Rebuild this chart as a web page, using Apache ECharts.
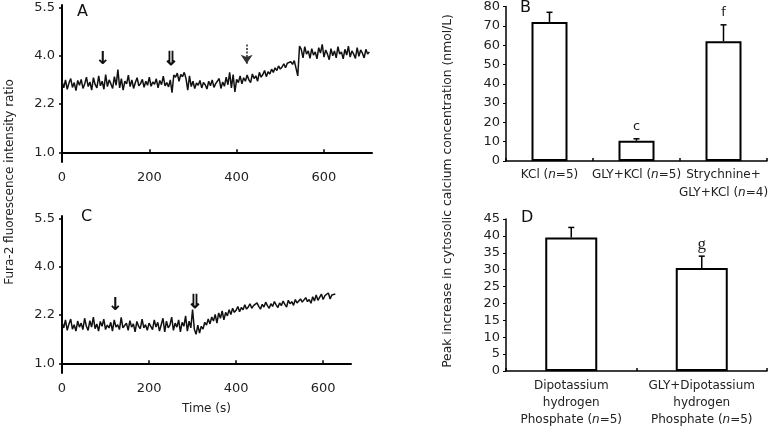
<!DOCTYPE html>
<html><head><meta charset="utf-8">
<script src="https://cdn.jsdelivr.net/npm/echarts@6/dist/echarts.min.js"></script>
<style>html,body{margin:0;padding:0;background:#fff}#c{width:773px;height:428px}</style>
</head><body><div id="c"></div>
<script>
// ---------- data ----------
const ratioTickLabels = ['1.0', '2.2', '4.0', '5.5'];
const ratioTickValues = [1.0, 2.2, 4.0, 5.5];
const timeTicks = [0, 200, 400, 600];
const timeStepA = 4;   // s between samples, panel A
const timeStepC = 4;   // s between samples, panel C

// Panel A trace (Fura-2 ratio), sampled every 4 s from 0 s
const traceA = [
  3.05,2.80,3.10,2.75,2.98,3.15,2.82,3.00,2.70,3.08,2.90,3.12,2.78,2.95,3.20,2.85,3.02,2.72,3.18,2.92,
  2.80,3.25,2.88,3.05,2.75,3.30,2.85,3.10,2.95,2.78,3.22,2.90,3.48,2.80,3.15,2.72,3.05,2.95,3.28,2.85,
  3.10,2.78,3.00,3.18,2.88,2.96,3.12,2.82,3.05,2.90,3.20,2.86,3.02,2.94,3.14,2.80,3.08,2.92,3.24,2.88,
  3.00,2.84,3.10,
  2.62,
  3.28,3.20,3.35,3.05,3.30,3.22,3.38,3.15,
  2.72,3.25,
  2.85,3.05,2.78,2.98,2.90,3.08,2.80,3.00,2.92,2.76,3.05,2.88,3.10,2.82,2.96,2.90,3.15,2.78,3.02,2.86,
  3.20,2.92,3.38,2.80,3.30,
  2.65,3.12,
  3.00,3.25,2.95,3.18,3.05,3.28,3.10,3.00,3.32,3.15,3.25,3.05,3.38,3.20,3.30,3.45,3.22,3.40,3.32,3.50,
  3.38,3.55,3.45,3.62,3.50,3.58,3.70,3.55,3.72,3.65,3.78,3.68,3.82,3.75,
  3.25,4.30,
  4.20,3.92,4.28,4.05,4.15,3.90,4.22,4.02,4.12,3.88,4.25,4.08,4.35,3.95,4.18,4.05,3.85,4.22,4.00,4.15,
  3.92,4.28,4.05,4.12,3.88,4.20,4.02,4.30,3.95,4.15,4.05,3.90,4.25,3.98,4.18,4.08,3.92,4.20,4.05,4.12
];
// Panel C trace (Fura-2 ratio), sampled every 4 s from 0 s
const traceC = [
  2.02,1.88,2.08,1.82,1.98,2.10,1.85,1.96,1.80,2.05,1.90,2.00,1.84,2.12,1.92,1.82,2.06,1.90,2.15,1.86,
  1.98,1.80,2.04,1.92,2.10,1.84,1.95,1.88,2.02,1.80,2.08,1.90,1.96,1.84,2.14,1.88,1.94,2.00,1.82,2.06,
  1.90,1.98,1.78,2.04,1.92,1.86,2.10,1.88,1.96,1.82,2.00,1.92,1.84,2.08,1.90,2.02,1.80,1.96,2.12,1.78,
  2.05,1.88,1.95,2.15,1.82,2.00,1.90,2.08,1.78,2.02,1.92,2.18,1.80,2.05,1.88,
  2.40,
  1.85,1.72,1.95,1.75,
  1.92,1.85,2.02,1.95,2.10,1.98,2.15,2.05,2.22,2.00,2.28,2.12,2.35,2.08,2.30,2.18,2.40,2.22,2.45,2.30,
  2.38,2.52,2.32,2.48,2.40,2.58,2.42,2.50,2.62,2.45,2.55,
  2.48,2.65,2.52,2.42,2.60,2.50,2.68,2.55,2.45,2.62,2.52,2.70,2.58,2.48,2.65,2.55,2.72,2.60,2.50,2.75,
  2.62,2.70,2.56,2.78,2.65,2.58,2.80,2.68,2.62,2.85,2.70,2.78,2.64,2.88,2.72,2.95,2.75,2.82,2.98,2.78,
  2.92,2.85,3.02,2.80,2.95,2.88,2.98
];
// Arrow annotations [time s, ratio, glyph]
const arrowsA = [[93, 3.85, '↓'], [249, 3.85, '⇓']];
const dashedArrowA = [423, 4.35, 3.70];   // time, start ratio, end ratio
const arrowsC = [[122, 2.58, '↓'], [306, 2.66, '⇓']];

// Panel B
const catB = ['KCl ({i|n}=5)', 'GLY+KCl ({i|n}=5)', 'Strychnine+\nGLY+KCl ({i|n}=4)'];
const valB = [72, 10.5, 62];
const errB = [5, 1, 8.5];
const sigB = ['', 'c', 'f'];
const yTicksB = [0, 80, 10];
// Panel D
const catD = ['Dipotassium\nhydrogen\nPhosphate ({i|n}=5)', 'GLY+Dipotassium\nhydrogen\nPhosphate ({i|n}=5)'];
const valD = [39.5, 30.5];
const errD = [3, 3.5];
const sigD = ['', 'g'];
const yTicksD = [0, 45, 5];

// ---------- helpers ----------
// the ratio axis labels are evenly spaced; map a ratio to its position between labels
function toPos(v) {
  const t = ratioTickValues;
  let i = 0;
  if (v >= t[t.length - 1]) i = t.length - 2;
  else { while (i < t.length - 2 && v > t[i + 1]) i++; }
  return i + (v - t[i]) / (t[i + 1] - t[i]);
}
const FONT = 'DejaVu Sans';
const dataA = traceA.map((v, i) => [i * timeStepA, toPos(v)]);
const dataC = traceC.map((v, i) => [i * timeStepC, toPos(v)]);

function ratioYAxis(gi) {
  return {
    gridIndex: gi, type: 'value', min: -0.2, max: 3.05,
    axisLine: {show: true, lineStyle: {color: '#000', width: 2}},
    axisTick: {show: true, inside: false, length: 3, customValues: [0, 1, 2, 3], lineStyle: {color: '#000', width: 1.5}},
    axisLabel: {customValues: [0, 1, 2, 3], formatter: v => ratioTickLabels[Math.round(v)],
      color: '#222', fontFamily: FONT, fontSize: 13, margin: 7},
    splitLine: {show: false}
  };
}
function timeXAxis(gi, max) {
  return {
    gridIndex: gi, type: 'value', min: 0, max: max,
    axisLine: {show: true, lineStyle: {color: '#000', width: 2}},
    axisTick: {show: true, inside: true, length: 3, customValues: timeTicks, lineStyle: {color: '#000', width: 1.5}},
    axisLabel: {customValues: timeTicks, color: '#222', fontFamily: FONT, fontSize: 13, margin: 9},
    splitLine: {show: false}
  };
}
function arrowMarks(list) {
  return {
    silent: true, symbol: 'rect', symbolSize: 1, itemStyle: {color: 'rgba(0,0,0,0)'},
    label: {show: true, position: 'inside', color: '#111', fontFamily: FONT, fontSize: 18, fontWeight: 'bold',
      formatter: p => p.name === '⇓' ? '{d|⇓}' : p.name,
      rich: {d: {fontFamily: 'Noto Sans', fontSize: 19, fontWeight: 'bold', color: '#111'}}},
    data: list.map(a => ({name: a[2], coord: [a[0], toPos(a[1])]}))
  };
}
function catXAxis(gi, cats, margin, lh) {
  return {
    gridIndex: gi, type: 'category', data: cats,
    axisLine: {show: true, lineStyle: {color: '#000', width: 1.5}},
    axisTick: {show: true, inside: true, length: 3, lineStyle: {color: '#000', width: 1.5}},
    axisLabel: {interval: 0, color: '#222', fontFamily: FONT, fontSize: 12, margin: margin, lineHeight: lh,
      rich: {i: {fontStyle: 'italic', fontFamily: FONT, fontSize: 12, color: '#222', lineHeight: lh}}}
  };
}
function numYAxis(gi, t) {
  return {
    gridIndex: gi, type: 'value', min: t[0], max: t[1], interval: t[2],
    axisLine: {show: true, lineStyle: {color: '#000', width: 1.5}},
    axisTick: {show: true, length: 3, lineStyle: {color: '#000', width: 1}},
    axisLabel: {color: '#222', fontFamily: FONT, fontSize: 13, margin: 6},
    splitLine: {show: false}
  };
}
function errSeries(xi, yi, vals, errs, sig) {
  return {
    type: 'custom', xAxisIndex: xi, yAxisIndex: yi, silent: true, z: 5,
    data: vals.map((v, i) => [i, v, v + errs[i]]),
    renderItem: (params, api) => {
      const b = api.coord([api.value(0), api.value(1)]);
      const t = api.coord([api.value(0), api.value(2)]);
      const s = {stroke: '#000', lineWidth: 1.5};
      const ch = [
        {type: 'line', shape: {x1: b[0], y1: b[1], x2: t[0], y2: t[1]}, style: s},
        {type: 'line', shape: {x1: t[0] - 3, y1: t[1], x2: t[0] + 3, y2: t[1]}, style: s}
      ];
      const letter = sig[params.dataIndex];
      if (letter) {
        ch.push({type: 'text', x: t[0], y: t[1] - 12,
          style: {text: letter, fill: '#222', font: (letter === 'g' ? '17px "Liberation Serif"' : '13px "DejaVu Sans"'),
            align: 'center', verticalAlign: 'middle'}});
      }
      return {type: 'group', children: ch};
    }
  };
}

const option = {
  animation: false,
  backgroundColor: '#fff',
  grid: [
    {left: 62, top: 5, width: 310, height: 157},
    {left: 62, top: 216, width: 289, height: 157},
    {left: 506, top: 6, width: 261, height: 155},
    {left: 506, top: 219, width: 261, height: 154}
  ],
  xAxis: [
    timeXAxis(0, 710),
    Object.assign(timeXAxis(1, 664), {name: 'Time (s)', nameLocation: 'middle', nameGap: 30,
      nameTextStyle: {color: '#222', fontFamily: FONT, fontSize: 12}}),
    catXAxis(2, catB, 5, 18),
    catXAxis(3, catD, 6, 17)
  ],
  yAxis: [ratioYAxis(0), ratioYAxis(1), numYAxis(2, yTicksB), numYAxis(3, yTicksD)],
  graphic: [
    {type: 'text', left: 77, top: 4, style: {text: 'A', font: '16px "DejaVu Sans"', fill: '#111'}},
    {type: 'text', left: 81, top: 209, style: {text: 'C', font: '16px "DejaVu Sans"', fill: '#111'}},
    {type: 'text', left: 520, top: 0, style: {text: 'B', font: '16px "DejaVu Sans"', fill: '#111'}},
    {type: 'text', left: 521, top: 210, style: {text: 'D', font: '16px "DejaVu Sans"', fill: '#111'}},
    {type: 'text', x: 10, y: 182, rotation: Math.PI / 2,
      style: {text: 'Fura-2 fluorescence intensity ratio', font: '12px "DejaVu Sans"', fill: '#222',
        align: 'center', verticalAlign: 'middle'}},
    {type: 'text', x: 448, y: 191, rotation: Math.PI / 2,
      style: {text: 'Peak increase in cytosolic calcium concentration (nmol/L)', font: '12.3px "DejaVu Sans"', fill: '#222',
        align: 'center', verticalAlign: 'middle'}}
  ],
  series: [
    {type: 'line', xAxisIndex: 0, yAxisIndex: 0, data: dataA, showSymbol: false, symbol: 'none',
      lineStyle: {color: '#111', width: 1.5}, silent: true,
      markPoint: arrowMarks(arrowsA),
      markLine: {silent: true, symbol: ['none', 'arrow'], symbolSize: 9, label: {show: false},
        lineStyle: {color: '#333', type: [2, 1.5], width: 1.6},
        data: [[{coord: [dashedArrowA[0], toPos(dashedArrowA[1])]}, {coord: [dashedArrowA[0], toPos(dashedArrowA[2])]}]]}
    },
    {type: 'line', xAxisIndex: 1, yAxisIndex: 1, data: dataC, showSymbol: false, symbol: 'none',
      lineStyle: {color: '#111', width: 1.5}, silent: true,
      markPoint: arrowMarks(arrowsC)
    },
    {type: 'bar', xAxisIndex: 2, yAxisIndex: 2, data: valB, barWidth: 36, silent: true,
      itemStyle: {color: '#fff', borderColor: '#000', borderWidth: 2}},
    errSeries(2, 2, valB, errB, sigB),
    {type: 'bar', xAxisIndex: 3, yAxisIndex: 3, data: valD, barWidth: 52, silent: true,
      itemStyle: {color: '#fff', borderColor: '#000', borderWidth: 2}},
    errSeries(3, 3, valD, errD, sigD)
  ]
};
const chart = echarts.init(document.getElementById('c'), null, {renderer: 'canvas'});
chart.setOption(option);
</script>
</body></html>
